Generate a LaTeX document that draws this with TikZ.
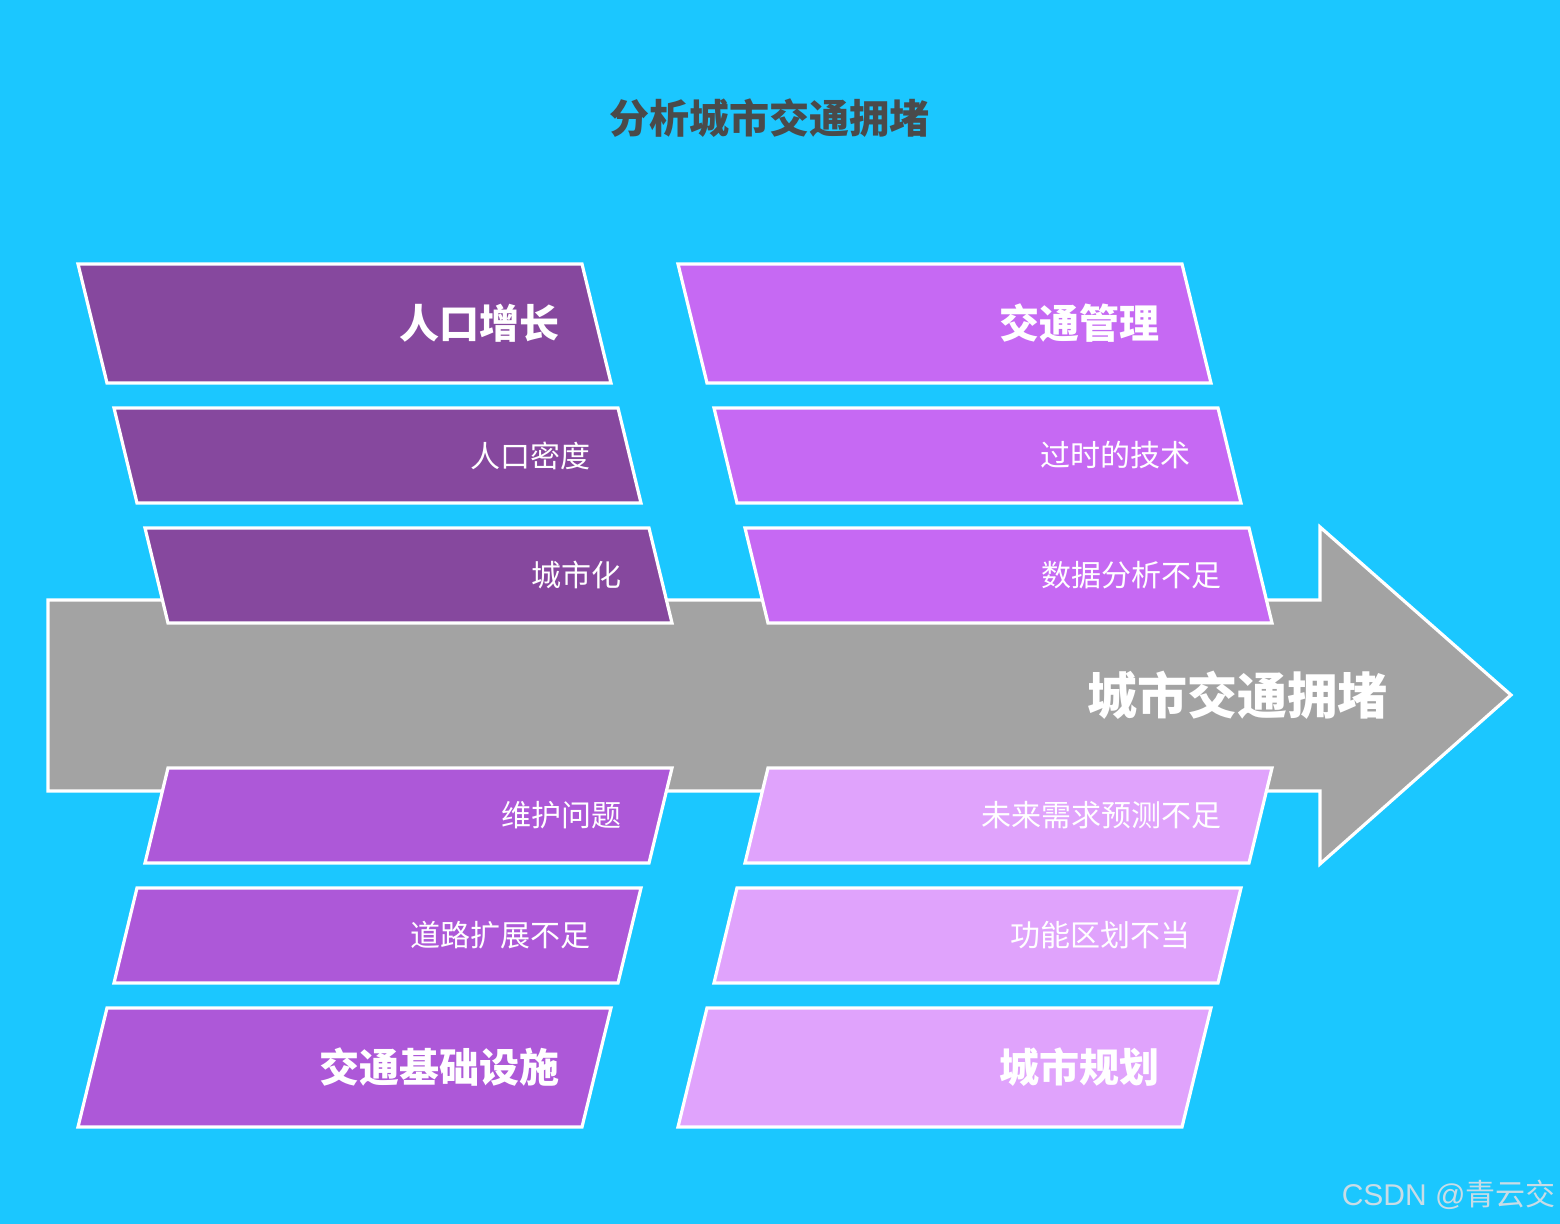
\documentclass[tikz,border=0pt]{standalone}
\usepackage{fontspec}
\setmainfont{Noto Sans CJK SC}
\newfontfamily\marklatin{Liberation Sans}
\usetikzlibrary{positioning}
\definecolor{skyback}{HTML}{1BC7FF}
\definecolor{spine}{HTML}{A3A3A3}
\definecolor{popcol}{HTML}{86489E}
\definecolor{mgmtcol}{HTML}{C669F3}
\definecolor{infracol}{HTML}{AD58D8}
\definecolor{plancol}{HTML}{E0A3FC}
\definecolor{titlecol}{HTML}{4A4A4A}
\definecolor{markcol}{HTML}{C8DCE6}
\tikzset{
  causebox/.style={draw=white, line width=1.6pt, line join=miter},
  biglabel/.style={text=white, font=\fontsize{20}{24}\selectfont\bfseries, inner sep=0pt},
  smalllabel/.style={text=white, font=\fontsize{15}{18}\selectfont, inner sep=0pt},
}

\begin{document}
\begin{tikzpicture}[x=0.5pt, y=-0.5pt]
      \fill[skyback] (0,0) rectangle (1560,1224);
      \useasboundingbox (0,0) rectangle (1560,1224);
      % title
      \node[text=titlecol, font=\fontsize{20}{24}\selectfont\bfseries] (title) at (769,118) {分析城市交通拥堵};
      % spine
      \draw[causebox, fill=spine] (48,600) -- (1320,600) -- (1320,527) -- (1511,695)
        -- (1320,864) -- (1320,791) -- (48,791) -- cycle;
      \node[text=white, font=\fontsize{25}{30}\selectfont\bfseries, anchor=east, inner sep=0pt] (effect) at (1388,695) {城市交通拥堵};
      % main causes
      \foreach \name/\tx/\bx/\ty/\by/\col/\lbl in {
        pop/78/107/264/383/popcol/人口增长,
        mgmt/678/707/264/383/mgmtcol/交通管理,
        infra/107/78/1008/1127/infracol/交通基础设施,
        plan/707/678/1008/1127/plancol/城市规划}
      {
        \draw[causebox, fill=\col] (\tx,\ty) -- (\tx+504,\ty) -- (\bx+504,\by) -- (\bx,\by) -- cycle;
        \node[biglabel, anchor=east] (\name) at ({(\tx+\bx)/2+467},{(\ty+\by)/2}) {\lbl};
      }
      % sub causes
      \foreach \name/\tx/\bx/\ty/\by/\col/\lbl in {
        density/114/137/408/503/popcol/人口密度,
        urban/145/168/528/623/popcol/城市化,
        tech/714/737/408/503/mgmtcol/过时的技术,
        data/745/768/528/623/mgmtcol/数据分析不足,
        upkeep/168/145/768/863/infracol/维护问题,
        roads/137/114/888/983/infracol/道路扩展不足,
        demand/768/745/768/863/plancol/未来需求预测不足,
        zoning/737/714/888/983/plancol/功能区划不当}
      {
        \draw[causebox, fill=\col] (\tx,\ty) -- (\tx+504,\ty) -- (\bx+504,\by) -- (\bx,\by) -- cycle;
        \node[smalllabel, anchor=east] (\name) at ({(\tx+\bx)/2+465},{(\ty+\by)/2}) {\lbl};
      }
      % watermark
      \node[text=markcol, font=\fontsize{15}{18}\selectfont, anchor=east, inner sep=0pt] (mark) at (1556,1195) {{\marklatin CSDN @}青云交};
    \end{tikzpicture}
\end{document}
